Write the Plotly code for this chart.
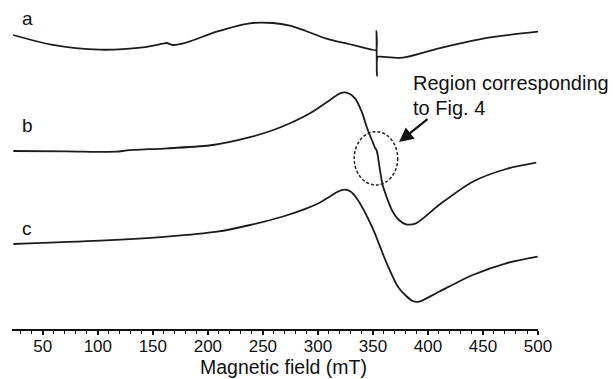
import plotly.graph_objects as go

# Magnetic field (mT) and EPR signal (arbitrary units, vertically offset per spectrum)
field_a = [23, 56.4, 101.8, 141, 159, 162.7, 168, 181, 208, 238, 259, 274.5, 289, 307, 328, 348,
           352.8, 353.2, 353.6, 354.2, 357, 377, 410, 455, 500]
signal_a = [294, 284.7, 279.3, 281.7, 285.3, 286, 284, 286.7, 297.3, 305.7, 306, 303.3, 298, 290.7,
            285, 279.7, 279, 298, 253, 272, 272.3, 271.3, 280.7, 291.3, 297.3]

field_b = [23.2, 71.7, 117.1, 126.5, 162.9, 204.7, 238.3, 259.5, 274.6, 292.8, 311, 320.1, 326.2,
           333.7, 339.8, 344.3, 347.3, 350.3, 351.9, 353.2, 354.3, 356.4, 359.1, 368, 373.7,
           380, 389.1, 410, 440.7, 471, 498.4]
signal_b = [178, 177.7, 177.3, 178.6, 180.7, 184, 191.8, 199, 205.7, 215.7, 229, 235.7, 236.3,
            230.7, 217.3, 202.3, 193.5, 185.7, 181, 179, 174, 159, 143, 117.3, 109,
            104.7, 105.7, 124, 147.3, 160, 166.3]

field_c = [23.2, 102, 162.9, 208.3, 238.3, 268.3, 289.2, 301.9, 311, 318, 324, 330, 336,
           349.8, 361.9, 373.7, 386.2, 391.9, 410, 440.7, 471, 499.7]
signal_c = [85, 88.3, 92.3, 97.3, 104, 112.5, 120.3, 126.5, 132.5, 137.3, 139.3, 137.3, 129.5,
            100.7, 67.3, 40.7, 28, 27.3, 37.3, 54, 65.7, 72.3]

tick_vals = [50, 100, 150, 200, 250, 300, 350, 400, 450, 500]
tick_text = ["50", "100", "150", "200", "250", "300", "350", "400", "450", "500"]
labels = ["a", "b", "c"]

FONT = "Liberation Sans, Arial, sans-serif"
LINE = "#1c1c1c"

fig = go.Figure()
for fx, sy in [(field_a, signal_a), (field_b, signal_b), (field_c, signal_c)]:
    fig.add_trace(go.Scatter(x=fx, y=sy, mode="lines",
                             line=dict(color=LINE, width=1.8, shape="spline", smoothing=0.8),
                             showlegend=False, hoverinfo="skip"))

fig.update_layout(
    width=613, height=379,
    margin=dict(l=12, r=75, t=5, b=50),
    paper_bgcolor="white", plot_bgcolor="white",
    font=dict(family=FONT, color="#111"),
    xaxis=dict(range=[22, 500], showgrid=False, zeroline=False, showline=True,
               linecolor="#111", linewidth=2, ticks="outside", ticklen=4, tickwidth=1.5,
               tickcolor="#111", tickvals=tick_vals, ticktext=tick_text,
               ticklabelstandoff=-3,
               tickfont=dict(size=17, family=FONT, color="#111"),
               minor=dict(dtick=10, ticks="outside", ticklen=3, tickwidth=1.2, tickcolor="#111")),
    yaxis=dict(range=[0, 324], visible=False, showgrid=False, zeroline=False),
)

# spectrum labels
for lab, yv in zip(labels, [311, 203.5, 100.5]):
    fig.add_annotation(x=29, y=yv, xref="x", yref="y", text=lab, showarrow=False,
                       xanchor="left", yanchor="middle", font=dict(size=19, family=FONT, color="#111"))

# axis title
fig.add_annotation(x=0.516, y=-0.077, xref="paper", yref="paper", text="Magnetic field (mT)",
                   showarrow=False, xanchor="center", yanchor="top",
                   font=dict(size=19.5, family=FONT, color="#111"))

# region note
fig.add_annotation(x=384.5, y=246.5, xref="x", yref="y", text="Region corresponding",
                   showarrow=False, xanchor="left", yanchor="middle",
                   font=dict(size=20, family=FONT, color="#111"))
fig.add_annotation(x=384.5, y=221.5, xref="x", yref="y", text="to Fig. 4",
                   showarrow=False, xanchor="left", yanchor="middle",
                   font=dict(size=20, family=FONT, color="#111"))

# arrow
fig.add_annotation(x=373.7, y=187, xref="x", yref="y", ax=30, ay=-24, text="",
                   showarrow=True, arrowhead=2, arrowsize=1.3, arrowwidth=2.2, arrowcolor="#111")

# dashed ellipse
fig.add_shape(type="circle", xref="x", yref="y", x0=333, x1=372.5, y0=144, y1=197.3,
              line=dict(color="#222", width=1.5, dash="3px,2px"))

fig.write_html("out.html", config={"displayModeBar": False},
               post_script="document.body.style.margin='0px';")
